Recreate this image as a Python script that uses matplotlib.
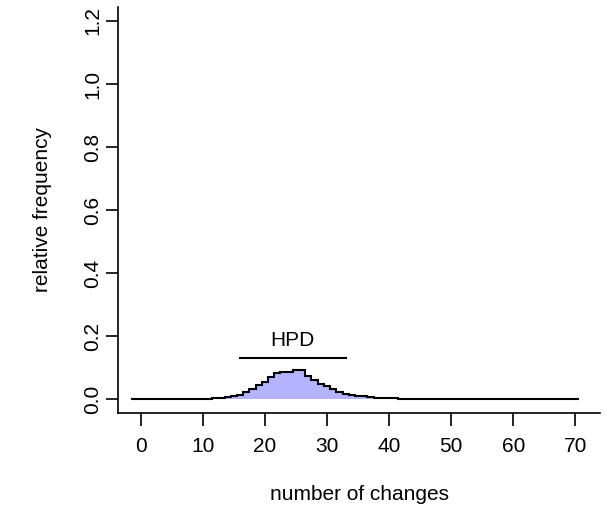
import numpy as np
import matplotlib
matplotlib.use("Agg")
import matplotlib.pyplot as plt

plt.rcParams['font.family'] = ['Liberation Sans', 'DejaVu Sans']

# number of changes (integer counts) and their relative frequency
changes = list(range(-1, 71))
freq_peak = {
    8: 0.0005, 9: 0.001, 10: 0.001, 11: 0.0015, 12: 0.002, 13: 0.003,
    14: 0.006, 15: 0.010, 16: 0.014, 17: 0.021, 18: 0.031, 19: 0.044,
    20: 0.055, 21: 0.071, 22: 0.083, 23: 0.087, 24: 0.085, 25: 0.092,
    26: 0.092, 27: 0.073, 28: 0.060, 29: 0.048, 30: 0.041, 31: 0.031,
    32: 0.023, 33: 0.017, 34: 0.013, 35: 0.010, 36: 0.008, 37: 0.006,
    38: 0.004, 39: 0.003, 40: 0.002, 41: 0.002, 42: 0.001, 43: 0.001,
    44: 0.001, 45: 0.0005,
}
frequency = [freq_peak.get(k, 0.0) for k in changes]
hpd = [16, 33]
hpd_y = 0.131
fill_range = [14, 37]
xticks = [0, 10, 20, 30, 40, 50, 60, 70]
yticks = [0.0, 0.2, 0.4, 0.6, 0.8, 1.0, 1.2]

W, H = 609, 522
fig = plt.figure(figsize=(W / 100, H / 100), dpi=100)
ax = fig.add_axes([118 / W, 1 - 413 / H, (600 - 118) / W, (413 - 7) / H])

edges = np.arange(changes[0] - 0.5, changes[-1] + 1.5, 1.0)
vals = np.array(frequency)

# shaded region
ch = np.array(changes)
mask = (ch >= fill_range[0]) & (ch <= fill_range[1])
sub_vals = vals[mask]
sub_edges = np.arange(fill_range[0] - 0.5, fill_range[1] + 1.5, 1.0)
ax.stairs(sub_vals, sub_edges, fill=True, color='#B3B3FF', linewidth=0, baseline=0)

ax.stairs(vals, edges, color='black', linewidth=1.5, baseline=None)

ax.plot(hpd, [hpd_y, hpd_y], color='black', linewidth=1.5)
ax.text(np.mean(hpd), 0.187, 'HPD', ha='center', va='center', fontsize=15)

ax.set_xlim(-3.66, 73.96)
ax.set_ylim(-0.0444, 1.2444)
ax.set_xticks(xticks)
ax.set_xticklabels([str(t) for t in xticks])
ax.set_yticks(yticks)
ax.set_yticklabels([f"{t:.1f}" for t in yticks], rotation=90, va='center')

for s in ['top', 'right']:
    ax.spines[s].set_visible(False)
for s in ['left', 'bottom']:
    ax.spines[s].set_linewidth(1.2)
ax.tick_params(axis='both', direction='out', length=9, width=1.2, labelsize=15)
ax.tick_params(axis='x', pad=8)
ax.tick_params(axis='y', pad=2.5)

ax.set_xlabel('number of changes', fontsize=15, labelpad=21)
ax.set_ylabel('relative frequency', fontsize=15, labelpad=22)

fig.savefig('out.png', dpi=100)
